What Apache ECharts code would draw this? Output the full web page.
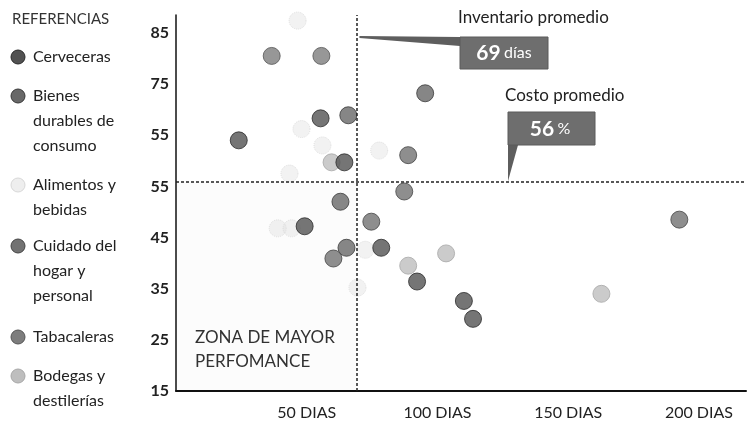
<!DOCTYPE html>
<html>
<head>
<meta charset="utf-8">
<script src="https://cdn.jsdelivr.net/npm/echarts@6/dist/echarts.min.js"></script>
<style>
  html, body { margin: 0; padding: 0; background: #fff; }
  #chart { width: 749px; height: 424px; }
</style>
</head>
<body>
<div id="chart"></div>
<script>
// categories (legend order)
const categories = ["Cerveceras", "Bienes durables de consumo", "Alimentos y bebidas", "Cuidado del hogar y personal", "Tabacaleras", "Bodegas y destilerías"];
const legendLabels = ["Cerveceras", "Bienes\ndurables de\nconsumo", "Alimentos y\nbebidas", "Cuidado del\nhogar y\npersonal", "Tabacaleras", "Bodegas y\ndestilerías"];

// [dias de inventario, costo %]
const cerveceras = [[24, 64], [55.3, 68.3], [64.4, 59.7], [49.2, 47.2], [78.5, 43], [92.2, 36.4], [110.1, 32.6], [113.6, 29.1]];
const bienesDurables = [[65.9, 68.9], [95.3, 73.2], [65.2, 43], [62.9, 52]];
const alimentos = [[46.5, 87.4], [48, 66.2], [56, 63], [43.4, 57.5], [77.7, 62], [38.9, 46.8], [44.2, 46.8], [72.4, 42.6], [69.4, 35.2]];
const cuidadoHogar = [[88.8, 61.1], [87.3, 54], [74.7, 48.1], [60.2, 40.9], [192.5, 48.5]];
const tabacaleras = [[36.6, 80.5], [55.6, 80.5]];
const bodegas = [[103.3, 41.9], [88.8, 39.5], [162.7, 34], [59.5, 59.7]];

const inventarioPromedio = 69;
const costoPromedio = 56;

// axis ticks and their printed labels
const yTicks = [15, 25, 35, 45, 55, 65, 75, 85];
const yTickLabels = ["15", "25", "35", "45", "55", "55", "75", "85"];
const xTicks = [50, 100, 150, 200];
const xTickLabels = ["50 DIAS", "100 DIAS", "150 DIAS", "200 DIAS"];

const seriesData = [cerveceras, bienesDurables, alimentos, cuidadoHogar, tabacaleras, bodegas];
const styles = [
  { color: "#525252", borderColor: "#2a2a2a", borderWidth: 1 },
  { color: "#686868", borderColor: "#383838", borderWidth: 1 },
  { color: "rgba(222,222,222,0.5)", borderColor: "#d8d8d8", borderWidth: 1, borderType: "dotted" },
  { color: "#727272", borderColor: "#444", borderWidth: 1 },
  { color: "#7d7d7d", borderColor: "#555", borderWidth: 1 },
  { color: "#bebebe", borderColor: "#a8a8a8", borderWidth: 1 },
];

const FONT = "Lato, 'Open Sans', sans-serif";
const chart = echarts.init(document.getElementById("chart"), null, { renderer: "canvas" });

const series = seriesData.map((d, i) => ({
  name: categories[i],
  type: "scatter",
  data: d,
  symbolSize: 17,
  clip: false,
  itemStyle: styles[i],
  z: i === 2 || i === 5 ? 2 : 3,
}));

series[0].markLine = {
  silent: true,
  symbol: "none",
  label: { show: false },
  lineStyle: { type: [3, 2], color: "#222", width: 1.5 },
  data: [{ xAxis: inventarioPromedio }, { yAxis: costoPromedio }],
};
// faint stipple of the "zona de mayor performance"
series[0].markArea = {
  silent: true,
  itemStyle: { color: "rgba(0,0,0,0.012)" },
  data: [[{ xAxis: 0, yAxis: 15 }, { xAxis: inventarioPromedio, yAxis: costoPromedio }]],
};

chart.setOption({
  backgroundColor: "#fff",
  animation: false,
  grid: { left: 176, right: 1, top: 15, bottom: 33 },
  xAxis: {
    type: "value",
    min: 0,
    max: 218,
    interval: 50,
    axisLine: { show: true, lineStyle: { color: "#111", width: 2 } },
    axisTick: { show: false },
    splitLine: { show: false },
    axisLabel: {
      color: "#222",
      fontFamily: FONT,
      fontSize: 16,
      margin: 14,
      formatter: (v) => {
        const i = xTicks.indexOf(v);
        return i >= 0 ? xTickLabels[i] : "";
      },
    },
  },
  yAxis: {
    type: "value",
    min: 15,
    max: 88.5,
    interval: 10,
    axisLine: { show: true, lineStyle: { color: "#111", width: 1.5 } },
    axisTick: { show: false },
    splitLine: { show: false },
    axisLabel: {
      color: "#222",
      fontFamily: FONT,
      fontSize: 16,
      fontWeight: "bold",
      margin: 7,
      formatter: (v) => {
        const i = yTicks.indexOf(v);
        return i >= 0 ? yTickLabels[i] : "";
      },
    },
  },
  series: series,
});

// legend, drawn on the left
const legendTop = [57, 96, 185, 246, 337, 376];
const graphics = [
  {
    type: "text", left: 12, top: 12,
    style: { text: "REFERENCIAS", font: "15px " + FONT, fill: "#333" },
  },
];
legendLabels.forEach((lab, i) => {
  graphics.push({
    type: "circle",
    shape: { cx: 18, cy: legendTop[i], r: 7 },
    style: { fill: styles[i].color, stroke: styles[i].borderColor, lineWidth: 1 },
  });
  graphics.push({
    type: "text", x: 33, y: legendTop[i] - 12.5,
    style: { text: lab, font: "16px " + FONT, fill: "#222", lineHeight: 25, verticalAlign: "top" },
  });
});

// annotations, anchored to the average lines
const vx = chart.convertToPixel({ gridIndex: 0 }, [inventarioPromedio, costoPromedio]);
const lineX = vx[0];
const lineY = vx[1];

graphics.push(
  { type: "text", left: 458, top: 9, style: { text: "Inventario promedio", font: "17px " + FONT, fill: "#222" } },
  {
    type: "polygon",
    shape: { points: [[lineX + 3, 36], [460, 37], [460, 46], [lineX + 3, 38]] },
    style: { fill: "#5e5e5e" },
  },
  { type: "rect", shape: { x: 460, y: 37, width: 88, height: 32 }, style: { fill: "#6e6e6e", stroke: "#5a5a5a" } },
  {
    type: "text", x: 504, y: 53,
    style: {
      text: "{a|69} {b|días}", align: "center", verticalAlign: "middle",
      rich: {
        a: { font: "bold 21px " + FONT, fill: "#fff" },
        b: { font: "16px " + FONT, fill: "#fff" },
      },
    },
  },
  { type: "text", left: 505, top: 87, style: { text: "Costo promedio", font: "17px " + FONT, fill: "#222" } },
  {
    type: "polygon",
    shape: { points: [[508, 145], [518, 145], [508, lineY]] },
    style: { fill: "#5e5e5e" },
  },
  { type: "rect", shape: { x: 508, y: 112, width: 87, height: 33 }, style: { fill: "#6e6e6e", stroke: "#5a5a5a" } },
  {
    type: "text", x: 550, y: 129,
    style: {
      text: "{a|56} {b|%}", align: "center", verticalAlign: "middle",
      rich: {
        a: { font: "bold 21px " + FONT, fill: "#fff" },
        b: { font: "16px " + FONT, fill: "#fff" },
      },
    },
  },
  {
    type: "text", left: 195, top: 326,
    style: { text: "ZONA DE MAYOR\nPERFOMANCE", font: "17px " + FONT, fill: "#333", lineHeight: 24 },
  }
);

chart.setOption({ graphic: graphics });
</script>
</body>
</html>
